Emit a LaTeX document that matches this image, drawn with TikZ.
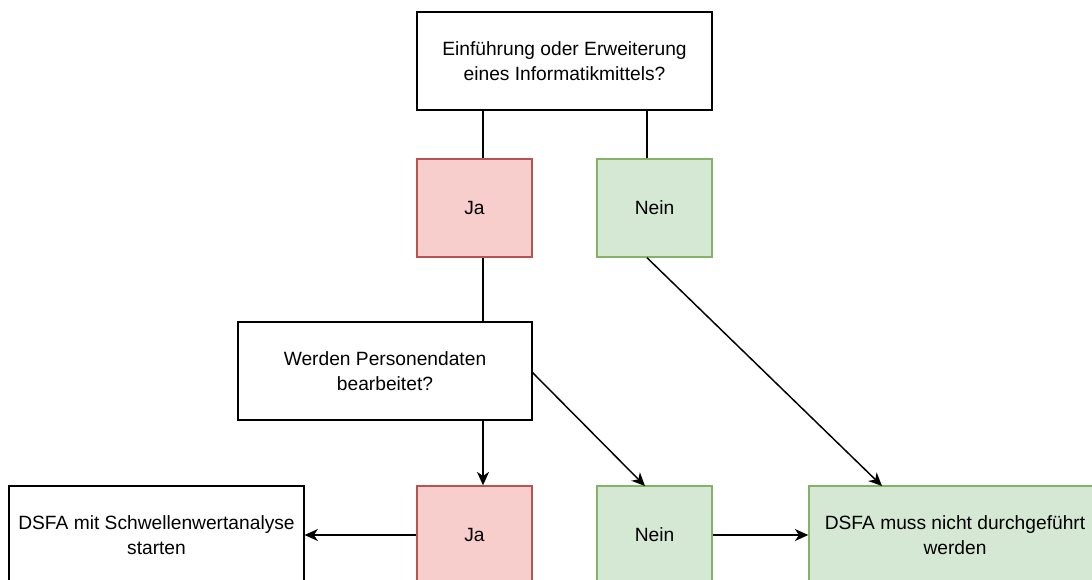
\documentclass[tikz,border=0pt]{standalone}
\usepackage{fontspec}
\setmainfont{Liberation Sans}
\usetikzlibrary{arrows.meta}
\definecolor{redfill}{HTML}{F8CECC}
\definecolor{redline}{HTML}{B85450}
\definecolor{greenfill}{HTML}{D5E8D4}
\definecolor{greenline}{HTML}{82B366}
\begin{document}
\begin{tikzpicture}[x=0.75pt,y=-0.75pt,
  base/.style={draw=black,line width=1.1pt,inner sep=0pt,align=center,
    font=\fontsize{14.4}{18.5}\selectfont,minimum height=73.5pt},
  wide/.style={base,fill=white,minimum width=221pt},
  yes/.style={base,fill=redfill,draw=redline,minimum width=86.25pt},
  no/.style={base,fill=greenfill,draw=greenline,minimum width=86.25pt},
  conn/.style={line width=1.1pt,draw=black},
  arr/.style={conn,-{Stealth[length=10pt,width=9pt,inset=3pt]}}]
\path[use as bounding box,clip] (0,0) rectangle (1092,579);
\fill[white] (0,0) rectangle (1092,579);
\node[wide] (top) at (564.5,61) {Einführung oder Erweiterung\\eines Informatikmittels?};
\node[yes] (ja1) at (474.5,208) {Ja};
\node[no] (nein1) at (654.5,208) {Nein};
\node[wide,minimum width=220.5pt] (werden) at (385,371) {Werden Personendaten\\bearbeitet?};
\node[yes] (ja2) at (474.5,535) {Ja};
\node[no] (nein2) at (654.5,535) {Nein};
\node[wide] (mit) at (156.5,535) {DSFA mit Schwellenwertanalyse\\starten};
\node[base,fill=greenfill,draw=greenline,minimum width=219pt] (nicht) at (955,535) {DSFA muss nicht durchgeführt\\werden};
\coordinate (cx) at (483,0);
\coordinate (nx) at (647,0);
\coordinate (wr) at (532,372);
\coordinate (n2t) at (645,486);
\coordinate (dt) at (882,486);
\draw[conn] (top.south -| cx) -- (ja1.north -| cx);
\draw[conn] (top.south -| nx) -- (nein1.north -| nx);
\draw[conn] (ja1.south -| cx) -- (werden.north -| cx);
\draw[arr] (werden.south -| cx) -- (ja2.north -| cx);
\draw[arr] (wr) -- (n2t);
\draw[arr] (nein1.south -| nx) -- (dt);
\draw[arr] (ja2.west) -- (mit.east);
\draw[arr] (nein2.east) -- (nicht.west);
\end{tikzpicture}
\end{document}
